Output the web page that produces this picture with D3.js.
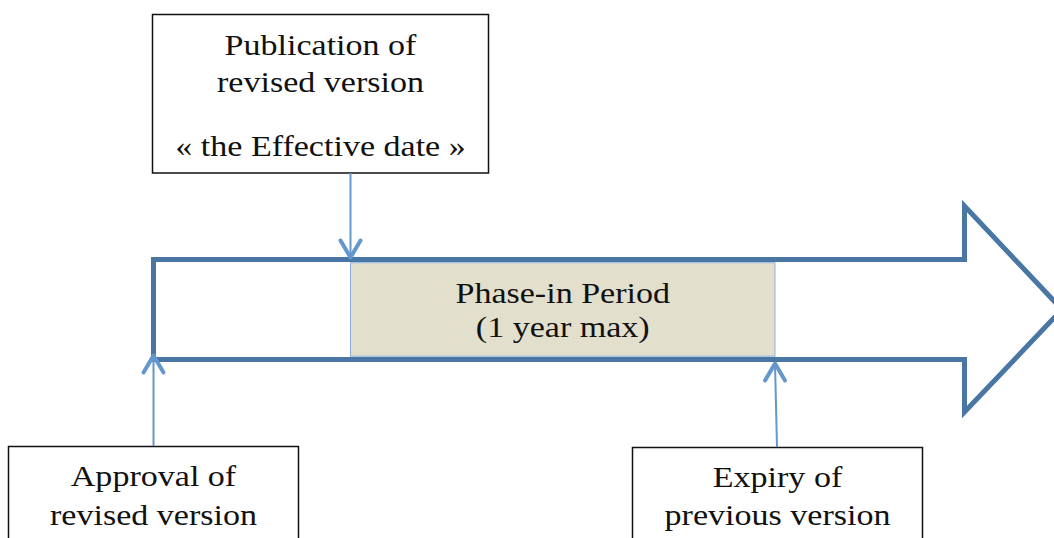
<!DOCTYPE html>
<html>
<head>
<meta charset="utf-8">
<script src="https://cdn.jsdelivr.net/npm/d3@7"></script>
<style>
  html, body { margin: 0; padding: 0; background: #fff; }
  svg { display: block; }
  text { font-family: "Liberation Serif", "DejaVu Serif", serif; fill: #111; }
</style>
</head>
<body>
<svg id="chart" width="1054" height="538"></svg>
<script>
// ---- data ----
const milestones = ["Approval", "Publication", "Expiry"];
const milestoneIndex = [0, 1, 2];
const topLabel = ["Publication of", "revised version", "", "« the Effective date »"];
const leftLabel = ["Approval of", "revised version"];
const rightLabel = ["Expiry of", "previous version"];
const phaseLabel = ["Phase-in Period", "(1 year max)"];

const svg = d3.select("#chart");
const FONT = 30, STRETCH = 1.135;

// timeline scale (piecewise: approval -> publication -> expiry)
const x = d3.scaleLinear().domain(milestoneIndex).range([153.5, 350.5, 775]);
// vertical band of the big arrow body
const y = d3.scaleLinear().domain([0, 1]).range([259.5, 359.5]);

const bodyColor = "#4a76a4";
const connColor = "#6497cc";

// ---- big arrow outline ----
const headX = 964.5, tipX = 1062, headTop = 206, headBot = 412;
const arrowPts = [
  [x(0), y(0)], [headX, y(0)], [headX, headTop], [tipX, (y(0) + y(1)) / 2],
  [headX, headBot], [headX, y(1)], [x(0), y(1)]
];
svg.append("path")
  .attr("d", d3.line()(arrowPts) + "Z")
  .attr("fill", "#fff")
  .attr("stroke", bodyColor)
  .attr("stroke-width", 5)
  .attr("stroke-linejoin", "miter");

// ---- phase-in rectangle ----
svg.append("rect")
  .attr("x", x(1)).attr("y", y(0) + 3.2)
  .attr("width", x(2) - x(1)).attr("height", y(1) - y(0) - 6.5)
  .attr("fill", "#e2dfcc")
  .attr("stroke", "#8db3e2")
  .attr("stroke-width", 1);

function labels(data, cx, ys) {
  svg.append("g").selectAll("text").data(data).join("text")
    .attr("transform", (d, i) => `translate(${cx},${ys[i]}) scale(${STRETCH},1)`)
    .attr("text-anchor", "middle")
    .attr("font-size", FONT)
    .text(d => d);
}

labels(phaseLabel, (x(1) + x(2)) / 2, [303, 337]);

// ---- label boxes ----
function box(x0, y0, w, h) {
  svg.append("rect")
    .attr("x", x0).attr("y", y0).attr("width", w).attr("height", h)
    .attr("fill", "#fff").attr("stroke", "#111").attr("stroke-width", 1.5);
}
box(152.5, 14.5, 336, 158.5);
box(8.5, 446.5, 290, 120);
box(632.5, 447.5, 290, 120);

labels(topLabel, 320.5, [55, 92, 124, 156]);
labels(leftLabel, 153.5, [486, 525]);
labels(rightLabel, 777.5, [487, 525]);

// ---- connector arrows ----
function connector(x1, y1, x2, y2) {
  svg.append("line")
    .attr("x1", x1).attr("y1", y1).attr("x2", x2).attr("y2", y2)
    .attr("stroke", connColor).attr("stroke-width", 2);
  const dir = y2 > y1 ? -1 : 1;
  svg.append("path")
    .attr("d", d3.line()([[x2 - 10, y2 + dir * 17], [x2, y2], [x2 + 10, y2 + dir * 17]]))
    .attr("fill", "none")
    .attr("stroke", connColor)
    .attr("stroke-width", 4)
    .attr("stroke-linecap", "round")
    .attr("stroke-linejoin", "round");
}
connector(x(1), 173, x(1), y(0) - 2);
connector(x(0), 446, x(0), y(1) - 4);
connector(777, 447, x(2), y(1) + 4);
</script>
</body>
</html>
